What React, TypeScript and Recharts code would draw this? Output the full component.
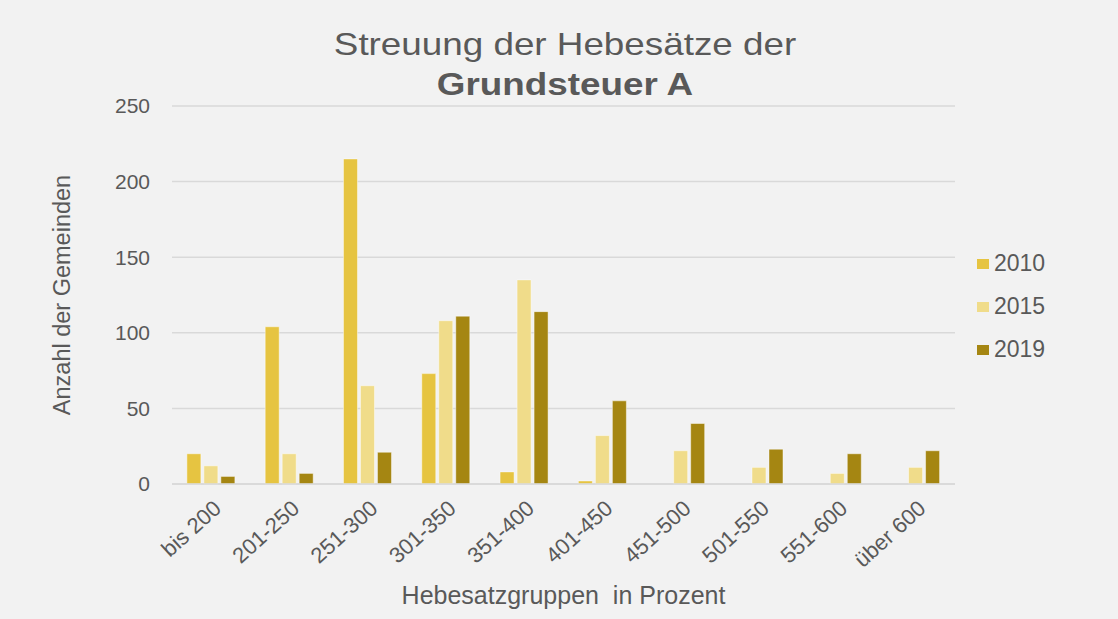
import { Bar, BarChart, CartesianGrid, XAxis, YAxis } from 'recharts';

const CATEGORIES = [
  'bis 200',
  '201-250',
  '251-300',
  '301-350',
  '351-400',
  '401-450',
  '451-500',
  '501-550',
  '551-600',
  'über 600',
];

const VALUES_2010 = [20, 104, 215, 73, 8, 2, 0, 0, 0, 0];
const VALUES_2015 = [12, 20, 65, 108, 135, 32, 22, 11, 7, 11];
const VALUES_2019 = [5, 7, 21, 111, 114, 55, 40, 23, 20, 22];

const Y_TICKS = [0, 50, 100, 150, 200, 250];

const SERIES = [
  { key: 'y2010', name: '2010', color: '#E6C441' },
  { key: 'y2015', name: '2015', color: '#F0DC8A' },
  { key: 'y2019', name: '2019', color: '#A58612' },
];

const FONT = '"Liberation Sans", Arial, sans-serif';
const TEXT = '#595959';

const data = CATEGORIES.map((group, i) => ({
  group,
  y2010: VALUES_2010[i],
  y2015: VALUES_2015[i],
  y2019: VALUES_2019[i],
}));

function AngledTick({ x, y, payload }: { x?: number; y?: number; payload?: { value: string } }) {
  return (
    <g transform={`translate(${(x ?? 0) + 2},${(y ?? 0) + 8})`}>
      <text
        x={0}
        y={0}
        dy={14}
        textAnchor="end"
        transform="rotate(-42)"
        fill={TEXT}
        fontSize={22}
        fontFamily={FONT}
      >
        {payload?.value}
      </text>
    </g>
  );
}

export default function App() {
  return (
    <div
      style={{
        position: 'absolute',
        left: 0,
        top: 0,
        width: 1118,
        height: 619,
        background: '#F2F2F2',
        fontFamily: FONT,
        color: TEXT,
      }}
    >
      <div
        style={{
          position: 'absolute',
          left: 0,
          width: 1130,
          top: 24,
          textAlign: 'center',
          fontSize: 32,
          lineHeight: '40px',
          transform: 'scaleX(1.15)',
        }}
      >
        <div>Streuung der Hebesätze der</div>
        <div style={{ fontWeight: 'bold' }}>Grundsteuer A</div>
      </div>

      <BarChart
        width={1118}
        height={619}
        data={data}
        margin={{ top: 106, right: 163, bottom: 10, left: 20 }}
        barCategoryGap="19%"
        barGap={3}
      >
        <CartesianGrid vertical={false} stroke="#D9D9D9" strokeWidth={1.5} />
        <XAxis
          dataKey="group"
          interval={0}
          tick={<AngledTick />}
          tickLine={false}
          axisLine={{ stroke: '#D9D9D9', strokeWidth: 1.5 }}
          height={125}
          label={{
            value: 'Hebesatzgruppen\u00a0\u00a0in Prozent',
            position: 'insideBottom',
            offset: 5,
            fill: TEXT,
            fontSize: 25,
            fontFamily: FONT,
          }}
        />
        <YAxis
          domain={[0, 250]}
          ticks={Y_TICKS}
          width={152}
          tickSize={0}
          tickMargin={22}
          tickLine={false}
          axisLine={false}
          tick={{ fill: TEXT, fontSize: 21, fontFamily: FONT }}
          label={{
            value: 'Anzahl der Gemeinden',
            angle: -90,
            position: 'insideLeft',
            offset: 42,
            style: { textAnchor: 'middle' },
            fill: TEXT,
            fontSize: 23.5,
            fontFamily: FONT,
          }}
        />
        {SERIES.map((s) => (
          <Bar
            key={s.key}
            dataKey={s.key}
            name={s.name}
            fill={s.color}
            stroke="#ffffff"
            strokeOpacity={0.45}
            isAnimationActive={false}
          />
        ))}
      </BarChart>

      <div style={{ position: 'absolute', left: 977, top: 242 }}>
        {SERIES.map((s) => (
          <div
            key={s.key}
            style={{ display: 'flex', alignItems: 'center', height: 43, fontSize: 23 }}
          >
            <span
              style={{ width: 12, height: 10, background: s.color, marginRight: 5, display: 'inline-block' }}
            />
            {s.name}
          </div>
        ))}
      </div>
    </div>
  );
}
